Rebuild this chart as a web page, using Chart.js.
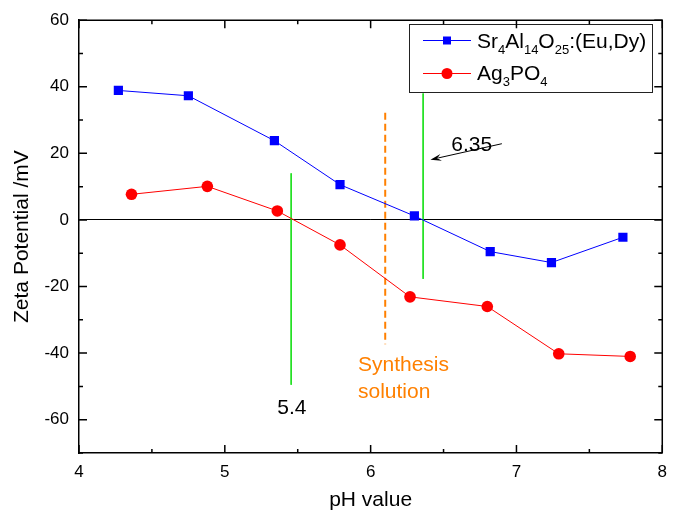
<!DOCTYPE html>
<html>
<head>
<meta charset="utf-8">
<script src="https://cdn.jsdelivr.net/npm/chart.js@4.4.1/dist/chart.umd.min.js"></script>
<style>
  html, body { margin: 0; padding: 0; background: #fff; }
  #wrap { width: 676px; height: 517px; }
</style>
</head>
<body>
<div id="wrap"><canvas id="chartZeta"></canvas></div>
<script>
// pH values and zeta potentials
const phSr = [4.27, 4.75, 5.34, 5.79, 6.30, 6.82, 7.24, 7.73];
const zetaSr = [38.9, 37.3, 23.8, 10.6, 1.2, -9.5, -12.8, -5.2];
const phAg = [4.36, 4.88, 5.36, 5.79, 6.27, 6.80, 7.29, 7.78];
const zetaAg = [7.7, 10.1, 2.7, -7.5, -23.1, -26.0, -40.2, -41.0];

// vertical marker lines: [x, yTop, yBottom]
const line54 = [5.455, 14.0, -49.5];
const line635 = [6.36, 38.0, -17.7];
const lineSynthesis = [6.10, 32.2, -37.3];

// axis ticks
const xTicks = [4, 5, 6, 7, 8];
const yTicks = [-60, -40, -20, 0, 20, 40, 60];

// annotation texts: [text, x, y(baseline), colour]
const notes = [
  ["6.35", 6.553, 20.8, "#000000"],
  ["5.4", 5.36, -58.2, "#000000"],
  ["Synthesis", 5.913, -45.5, "#FF8000"],
  ["solution", 5.913, -53.4, "#FF8000"],
];
// arrow from [x, y] to [x, y]
const arrow635 = [[6.90, 22.9], [6.41, 18.1]];

const FONT = "'Liberation Sans', Arial, sans-serif";

function pts(xs, ys) {
  return xs.map((x, i) => ({ x: x, y: ys[i] }));
}
function vline(l) {
  return [{ x: l[0], y: l[1] }, { x: l[0], y: l[2] }];
}

// frame + inward ticks on all four sides
const frameTicks = {
  id: "frameTicks",
  afterDraw(chart) {
    const { ctx, chartArea: a, scales } = chart;
    const sx = scales.x, sy = scales.y;
    ctx.save();
    ctx.strokeStyle = "#000";
    ctx.lineWidth = 1.5;
    ctx.beginPath();
    ctx.moveTo(a.left, a.top);
    ctx.lineTo(a.right, a.top);
    ctx.lineTo(a.right, a.bottom);
    ctx.stroke();
    ctx.beginPath();
    for (let v = 4; v <= 8.001; v += 0.5) {
      const px = sx.getPixelForValue(v);
      const len = Math.abs(v - Math.round(v)) < 0.01 ? 8 : 4;
      ctx.moveTo(px, a.bottom);
      ctx.lineTo(px, a.bottom - len);
      ctx.moveTo(px, a.top);
      ctx.lineTo(px, a.top + len);
    }
    for (let v = -70; v <= 60; v += 10) {
      const py = sy.getPixelForValue(v);
      const len = v % 20 === 0 ? 8 : 4;
      ctx.moveTo(a.left, py);
      ctx.lineTo(a.left + len, py);
      ctx.moveTo(a.right, py);
      ctx.lineTo(a.right - len, py);
    }
    ctx.stroke();
    ctx.restore();
  },
};

// text notes, arrow and the boxed legend with subscripts
const extras = {
  id: "extras",
  afterDatasetsDraw(chart) {
    const { ctx, scales } = chart;
    const sx = scales.x, sy = scales.y;
    ctx.save();
    ctx.font = "21px " + FONT;
    ctx.textBaseline = "alphabetic";
    ctx.textAlign = "left";
    notes.forEach((n) => {
      ctx.fillStyle = n[3];
      ctx.fillText(n[0], sx.getPixelForValue(n[1]), sy.getPixelForValue(n[2]));
    });

    // arrow
    const x1 = sx.getPixelForValue(arrow635[0][0]), y1 = sy.getPixelForValue(arrow635[0][1]);
    const x2 = sx.getPixelForValue(arrow635[1][0]), y2 = sy.getPixelForValue(arrow635[1][1]);
    const ang = Math.atan2(y2 - y1, x2 - x1);
    ctx.strokeStyle = "#000";
    ctx.fillStyle = "#000";
    ctx.lineWidth = 1;
    ctx.beginPath();
    ctx.moveTo(x1, y1);
    ctx.lineTo(x2 - 8 * Math.cos(ang), y2 - 8 * Math.sin(ang));
    ctx.stroke();
    ctx.beginPath();
    ctx.moveTo(x2, y2);
    ctx.lineTo(x2 - 11 * Math.cos(ang) + 3.5 * Math.sin(ang), y2 - 11 * Math.sin(ang) - 3.5 * Math.cos(ang));
    ctx.lineTo(x2 - 7 * Math.cos(ang), y2 - 7 * Math.sin(ang));
    ctx.lineTo(x2 - 11 * Math.cos(ang) - 3.5 * Math.sin(ang), y2 - 11 * Math.sin(ang) + 3.5 * Math.cos(ang));
    ctx.closePath();
    ctx.fill();

    // legend box
    const bx = 409.5, by = 24.5, bw = 243, bh = 68;
    ctx.fillStyle = "#fff";
    ctx.fillRect(bx, by, bw, bh);
    ctx.strokeStyle = "#222";
    ctx.lineWidth = 1;
    ctx.strokeRect(bx, by, bw, bh);

    const rows = [
      { ds: chart.data.datasets[0], y: 40.5, base: 47.5,
        parts: [["Sr", 0], ["4", 1], ["Al", 0], ["14", 1], ["O", 0], ["25", 1], [":(Eu,Dy)", 0]] },
      { ds: chart.data.datasets[1], y: 73.5, base: 80,
        parts: [["Ag", 0], ["3", 1], ["PO", 0], ["4", 1]] },
    ];
    rows.forEach((r) => {
      ctx.strokeStyle = r.ds.borderColor;
      ctx.lineWidth = 1;
      ctx.beginPath();
      ctx.moveTo(423, r.y);
      ctx.lineTo(471, r.y);
      ctx.stroke();
      ctx.fillStyle = r.ds.backgroundColor;
      if (r.ds.pointStyle === "rect") {
        ctx.fillRect(447 - 4, r.y - 4, 8, 8);
      } else {
        ctx.beginPath();
        ctx.arc(447, r.y, 5.5, 0, Math.PI * 2);
        ctx.fill();
      }
      let tx = 477;
      ctx.fillStyle = "#000";
      r.parts.forEach((p) => {
        ctx.font = (p[1] ? "13px " : "21px ") + FONT;
        ctx.fillText(p[0], tx, r.base + (p[1] ? 6 : 0));
        tx += ctx.measureText(p[0]).width;
      });
    });
    ctx.restore();
  },
};

const zetaCtx = document.getElementById("chartZeta").getContext("2d");
const chartZeta = new Chart(zetaCtx, {
  type: "scatter",
  data: {
    datasets: [
      {
        label: "Sr\u2084Al\u2081\u2084O\u2082\u2085:(Eu,Dy)",
        data: pts(phSr, zetaSr),
        showLine: true,
        borderColor: "#0000FF",
        backgroundColor: "#0000FF",
        borderWidth: 1,
        pointStyle: "rect",
        pointRadius: 6.5,
        pointBorderWidth: 0,
      },
      {
        label: "Ag\u2083PO\u2084",
        data: pts(phAg, zetaAg),
        showLine: true,
        borderColor: "#FF0000",
        backgroundColor: "#FF0000",
        borderWidth: 1,
        pointStyle: "circle",
        pointRadius: 5.8,
        pointBorderWidth: 0,
      },
      {
        label: "5.4",
        data: vline(line54),
        showLine: true,
        borderColor: "#1EE01E",
        borderWidth: 1,
        pointRadius: 0,
      },
      {
        label: "6.35",
        data: vline(line635),
        showLine: true,
        borderColor: "#1EE01E",
        borderWidth: 1,
        pointRadius: 0,
      },
      {
        label: "Synthesis solution",
        data: vline(lineSynthesis),
        showLine: true,
        borderColor: "#FF8000",
        borderWidth: 2,
        borderDash: [7, 4],
        pointRadius: 0,
      },
    ],
  },
  options: {
    responsive: true,
    maintainAspectRatio: false,
    animation: false,
    layout: { padding: { top: 20, right: 11, left: 0, bottom: 0 } },
    scales: {
      x: {
        type: "linear",
        min: 4,
        max: 8,
        afterFit: (s) => { s.height = 64; },
        afterBuildTicks: (s) => { s.ticks = xTicks.map((v) => ({ value: v })); },
        grid: { display: false, drawTicks: false },
        border: { display: true, color: "#000", width: 1.5 },
        ticks: { color: "#000", padding: 9, font: { family: FONT, size: 17 } },
        title: {
          display: true,
          text: "pH value",
          color: "#000",
          padding: { top: 0, bottom: 4 },
          font: { family: FONT, size: 21 },
        },
      },
      y: {
        min: -70,
        max: 60,
        afterFit: (s) => { s.width = 79; },
        afterBuildTicks: (s) => { s.ticks = yTicks.map((v) => ({ value: v })); },
        grid: {
          drawTicks: false,
          color: (c) => (c.tick && c.tick.value === 0 ? "#000" : "rgba(0,0,0,0)"),
          lineWidth: 1,
        },
        border: { display: true, color: "#000", width: 1.5 },
        ticks: { color: "#000", padding: 10, font: { family: FONT, size: 17 } },
        title: {
          display: true,
          text: "Zeta Potential /mV",
          color: "#000",
          padding: { top: 10, bottom: 0 },
          font: { family: FONT, size: 21 },
        },
      },
    },
    plugins: {
      legend: { display: false },
      tooltip: { enabled: false },
    },
  },
  plugins: [frameTicks, extras],
});
</script>
</body>
</html>
